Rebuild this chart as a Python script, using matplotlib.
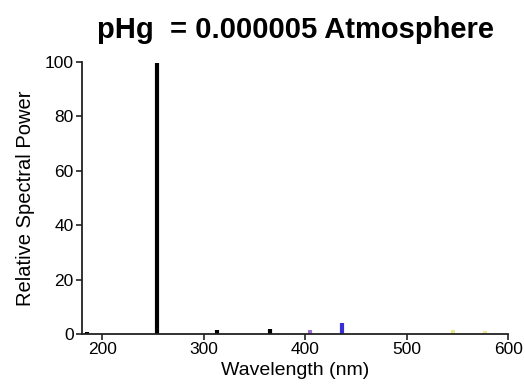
import matplotlib
matplotlib.use("Agg")
import matplotlib.pyplot as plt

plt.rcParams['font.family'] = ['Liberation Sans', 'DejaVu Sans']

# mercury emission lines (nm) and relative power
wavelengths = [185, 254, 313, 365, 405, 436, 546, 577]
power = [0.8, 99.5, 1.5, 2, 1.5, 4, 1.5, 1]
colors = ['black', 'black', 'black', 'black', '#9a6fd0', '#3a2ed8', '#e6ec8a', '#f0e890']

fig = plt.figure(figsize=(5.25, 3.84), dpi=100)
ax = fig.add_axes([0.156, 0.13, 0.812, 0.709])

ax.vlines(wavelengths, 0, power, colors=colors, linewidth=3)

ax.set_xlim(180, 600)
ax.set_ylim(0, 100)
ax.set_xticks([200, 300, 400, 500, 600])
ax.set_yticks([0, 20, 40, 60, 80, 100])
for s in ['top', 'right']:
    ax.spines[s].set_visible(False)
for s in ['left', 'bottom']:
    ax.spines[s].set_linewidth(1.3)
    ax.spines[s].set_color('#222222')
ax.tick_params(direction='out', labelsize=12.5, length=4, width=1.2, color='#222222', pad=2)
ax.set_xlabel("Wavelength (nm)", fontsize=14, labelpad=3)
ax.set_ylabel("Relative Spectral Power", fontsize=14.5, labelpad=7)
ax.set_title("pHg  = 0.000005 Atmosphere", fontsize=21, fontweight='bold', pad=17)

fig.savefig("out.png", dpi=100)
